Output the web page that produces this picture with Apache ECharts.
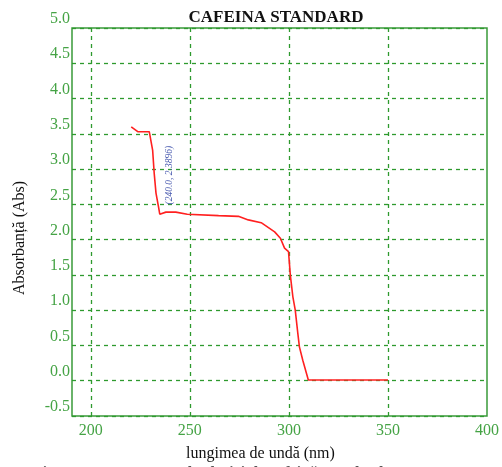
<!DOCTYPE html>
<html><head><meta charset="utf-8">
<script src="https://cdn.jsdelivr.net/npm/echarts@6/dist/echarts.min.js"></script>
<style>html,body{margin:0;padding:0;background:#fff}#c{width:502px;height:467px}</style>
</head><body><div id="c"></div>
<script>
const titleText = 'CAFEINA STANDARD';
const xName = 'lungimea de undă (nm)';
const yName = 'Absorbanță (Abs)';
const xTicks = [200, 250, 300, 350, 400];
const xGridLines = [200, 250, 300, 350];
const wavelength = [220.4, 223.7, 229.5, 230.4, 231.2, 232.0, 232.9, 234.2, 234.8, 237.9, 240.0, 242.9, 248.7, 264.5, 274.5, 279.5, 286.0, 292.8, 295.7, 297.8, 299.8, 300.7, 302.0, 303.2, 304.5, 305.3, 307.0, 309.8, 350.0];
const absorbance = [3.60, 3.53, 3.53, 3.51, 3.27, 2.94, 2.66, 2.46, 2.36, 2.39, 2.39, 2.39, 2.36, 2.34, 2.33, 2.28, 2.24, 2.11, 2.02, 1.88, 1.83, 1.50, 1.19, 1.00, 0.67, 0.48, 0.29, 0.01, 0.01];
const peakLabel = '(240.0, 2.3896)';
const peak = [240.0, 2.3896];
const caption = 'Fig. 3. UV-VIS spectrul soluției de cafeină standard';

const green = '#45a345';
const serif = '"Liberation Serif", "DejaVu Serif", serif';
const chart = echarts.init(document.getElementById('c'), null, {renderer: 'canvas'});
chart.setOption({
  animation: false,
  grid: {left: 72, right: 11, top: 28, bottom: 51, show: true, borderColor: '#3a9a3a', borderWidth: 1.5, backgroundColor: '#fff'},
  title: {text: titleText, left: 271, top: 4, textAlign: 'center',
    textStyle: {fontFamily: serif, fontWeight: 'bold', fontSize: 17, color: '#111'}},
  xAxis: {
    type: 'value', min: 190.5, max: 400,
    axisLine: {show: false},
    axisTick: {show: false, customValues: xTicks},
    axisLabel: {customValues: xTicks, color: green, fontFamily: serif, fontSize: 16, margin: 7},
    splitLine: {show: false}
  },
  yAxis: {
    type: 'value', min: -0.5, max: 5, interval: 0.5,
    axisLine: {show: false},
    axisTick: {show: false},
    axisLabel: {color: green, fontFamily: serif, fontSize: 16, margin: 2, verticalAlign: 'bottom', lineHeight: 16,
      padding: [0, 0, 1, 0],
      formatter: v => v.toFixed(1)},
    splitLine: {show: true, lineStyle: {color: '#2e9a2e', type: [4, 4], width: 1.3}}
  },
  graphic: [
    {type: 'text', left: 276 - 90, top: 446, style: {text: xName, font: '16px ' + serif, fill: '#111', width: 180, align: 'center'}, z: 10},
    {type: 'text', x: 20, y: 238, rotation: Math.PI / 2, style: {text: yName, font: '16px ' + serif, fill: '#111', align: 'center', verticalAlign: 'middle'}, z: 10},
    {type: 'text', x: 33, y: 466, style: {text: caption, font: 'bold 16px ' + serif, fill: '#555', verticalAlign: 'top'}, z: 10}
  ],
  series: [
    {
      type: 'line', data: [], silent: true,
      markLine: {symbol: 'none', silent: true, label: {show: false},
        lineStyle: {color: '#2e9a2e', type: [4, 4], width: 1.3},
        data: xGridLines.map(v => ({xAxis: v}))}
    },
    {
      type: 'line',
      data: wavelength.map((x, i) => [x, absorbance[i]]),
      showSymbol: false, symbol: 'none',
      lineStyle: {color: '#ff2020', width: 1.6},
      z: 5,
      markPoint: {
        symbol: 'circle', symbolSize: 0,
        data: [{coord: peak, value: peakLabel}],
        label: {show: true, formatter: peakLabel, rotate: 90, position: 'inside', offset: [37, -1],
          color: '#4a5bb0', fontStyle: 'italic', fontFamily: serif, fontSize: 9.5}
      }
    }
  ]
});
</script></body></html>
